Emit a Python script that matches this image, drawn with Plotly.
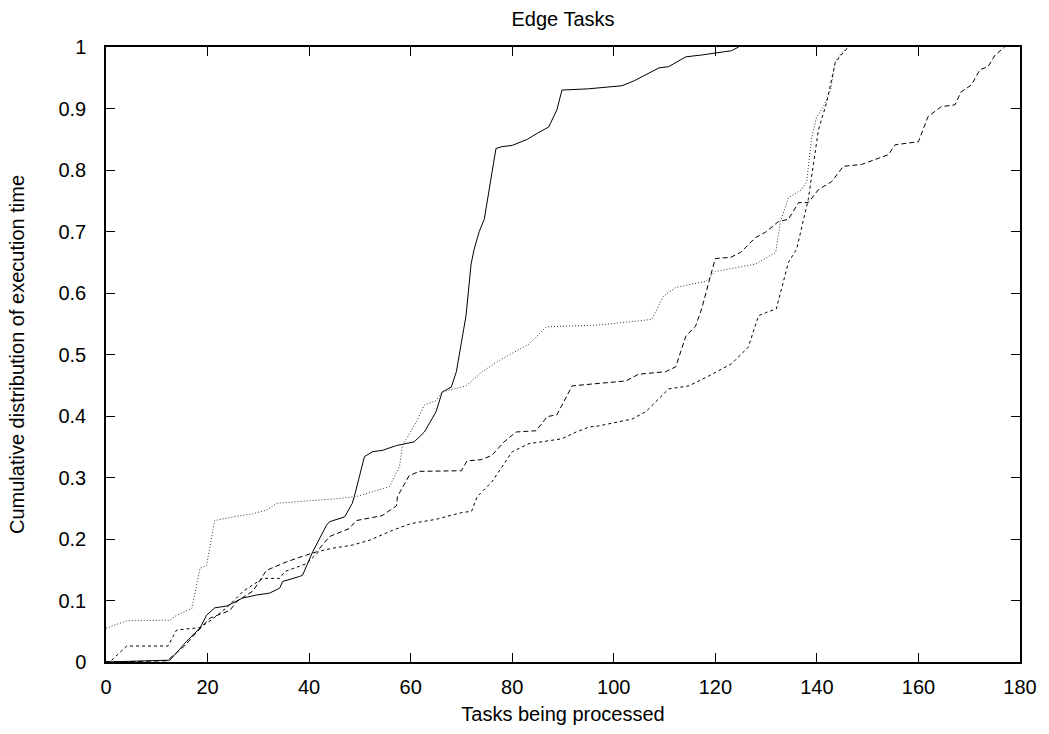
import plotly.graph_objects as go

# Series 1: solid
solid_x = [0, 5, 10, 12.6, 15.9, 18.5, 19.8, 21.4, 23.8, 26.9, 29.7, 32.2, 34.2, 34.8, 38.1, 38.7, 40.7, 43.4, 44, 47, 48.5, 48.9, 50.9, 52.5, 54.4, 57.2, 60.7, 62.7, 65, 66.2, 68, 69, 70, 70.9, 71.9, 72.5, 73.5, 74.5, 76.8, 78, 80, 83, 85, 87.2, 88.8, 89.8, 95, 101.6, 104, 106.3, 108.9, 110.8, 114.2, 117.3, 120, 123.2, 124.6]
solid_y = [0, 0.001, 0.002, 0.003, 0.034, 0.055, 0.076, 0.088, 0.091, 0.104, 0.109, 0.112, 0.120, 0.131, 0.139, 0.141, 0.179, 0.222, 0.228, 0.236, 0.258, 0.269, 0.334, 0.342, 0.344, 0.352, 0.358, 0.374, 0.407, 0.439, 0.447, 0.472, 0.520, 0.563, 0.647, 0.671, 0.70, 0.72, 0.835, 0.838, 0.84, 0.85, 0.86, 0.870, 0.898, 0.930, 0.932, 0.937, 0.945, 0.955, 0.966, 0.968, 0.984, 0.987, 0.99, 0.994, 1.0]

# Series 2: long dash
ldash_x = [0, 5, 12, 15.3, 17.5, 20.4, 24.4, 25.7, 27.7, 28.9, 31.6, 35.6, 39.5, 41.5, 44, 47.9, 49.3, 54.4, 57.2, 57.4, 59.7, 61.7, 70, 71.1, 73.9, 76, 78.4, 80.8, 84.7, 86.9, 88.8, 90.2, 91.8, 95.7, 102.4, 104.9, 110.2, 112.2, 114.2, 116.1, 117.3, 118.7, 120, 123, 125, 127.9, 129.9, 132.4, 134.4, 136.4, 138.3, 140.3, 142.9, 145.2, 148.8, 154.1, 155.4, 160, 161.9, 164.5, 167.2, 168.4, 170.4, 172.1, 173.7, 175.1, 177]
ldash_y = [0, 0.001, 0.002, 0.025, 0.045, 0.071, 0.084, 0.098, 0.109, 0.115, 0.149, 0.163, 0.174, 0.179, 0.204, 0.217, 0.230, 0.238, 0.254, 0.269, 0.303, 0.310, 0.311, 0.327, 0.329, 0.336, 0.358, 0.374, 0.376, 0.399, 0.402, 0.423, 0.449, 0.452, 0.457, 0.468, 0.472, 0.48, 0.53, 0.546, 0.574, 0.617, 0.656, 0.658, 0.666, 0.690, 0.699, 0.716, 0.72, 0.747, 0.747, 0.768, 0.781, 0.806, 0.809, 0.825, 0.841, 0.846, 0.887, 0.903, 0.906, 0.927, 0.938, 0.963, 0.968, 0.987, 1.0]

# Series 3: short dash
sdash_x = [0, 1, 4.1, 12.2, 13.9, 18.5, 21, 24, 27, 30.9, 34.2, 35.2, 39.5, 42, 44.6, 48.5, 51.9, 56.4, 60, 65, 70, 72, 73.1, 76, 80, 83.3, 89.8, 92.6, 95.1, 97.1, 103.6, 106.3, 110.8, 114.8, 118.7, 123.2, 126.5, 128.5, 129.9, 132, 134.4, 136, 138.3, 140.3, 141.9, 142.9, 143.6, 144.8, 146.2]
sdash_y = [0, 0.002, 0.026, 0.026, 0.052, 0.056, 0.07, 0.09, 0.115, 0.136, 0.136, 0.147, 0.16, 0.18, 0.185, 0.19, 0.198, 0.214, 0.225, 0.232, 0.243, 0.245, 0.269, 0.293, 0.342, 0.355, 0.363, 0.374, 0.382, 0.384, 0.395, 0.407, 0.444, 0.449, 0.465, 0.485, 0.512, 0.563, 0.568, 0.574, 0.65, 0.671, 0.752, 0.865, 0.909, 0.946, 0.974, 0.987, 1.0]

# Series 4: dotted
dot_x = [0, 4.1, 12.6, 13.9, 16.9, 18.5, 19.8, 21.4, 25, 28.9, 31.6, 33.6, 46, 49.3, 55.8, 57.8, 58.4, 61.1, 62.7, 65, 66.2, 70.9, 74.1, 77.4, 83.3, 86.7, 97.1, 107.5, 109.8, 112.2, 118.1, 120, 127.9, 131.9, 132.8, 134.4, 137, 138, 138.9, 139.9, 141.3, 142.7, 143.6, 144.8, 146.2]
dot_y = [0.055, 0.067, 0.068, 0.076, 0.087, 0.152, 0.157, 0.230, 0.236, 0.241, 0.247, 0.258, 0.266, 0.269, 0.285, 0.318, 0.352, 0.39, 0.418, 0.425, 0.439, 0.449, 0.472, 0.490, 0.517, 0.545, 0.548, 0.557, 0.595, 0.609, 0.619, 0.635, 0.647, 0.666, 0.716, 0.755, 0.768, 0.781, 0.849, 0.885, 0.903, 0.930, 0.976, 0.990, 1.0]

x_ticks = [0, 20, 40, 60, 80, 100, 120, 140, 160, 180]
y_ticks = [0, 0.1, 0.2, 0.3, 0.4, 0.5, 0.6, 0.7, 0.8, 0.9, 1]
y_labels = ["0", "0.1", "0.2", "0.3", "0.4", "0.5", "0.6", "0.7", "0.8", "0.9", "1"]

FONT = "Liberation Sans, Arial, sans-serif"
FS = 20

fig = go.Figure()
fig.add_trace(go.Scatter(x=solid_x, y=solid_y, mode="lines",
                         line=dict(color="black", width=1)))
fig.add_trace(go.Scatter(x=ldash_x, y=ldash_y, mode="lines",
                         line=dict(color="black", width=1, dash="5px,3px")))
fig.add_trace(go.Scatter(x=sdash_x, y=sdash_y, mode="lines",
                         line=dict(color="black", width=1, dash="3px,3px")))
fig.add_trace(go.Scatter(x=dot_x, y=dot_y, mode="lines",
                         line=dict(color="#333333", width=1, dash="1px,2px")))

fig.update_layout(
    width=1049, height=734,
    margin=dict(l=106, r=27, t=47, b=70),
    paper_bgcolor="white", plot_bgcolor="white",
    showlegend=False,
    font=dict(family=FONT, size=FS, color="black"),
    title=dict(text="Edge Tasks", x=0.5, xref="paper", y=1 - 19 / 734,
               yref="container", yanchor="middle", xanchor="center",
               font=dict(family=FONT, size=FS, color="black")),
    xaxis=dict(range=[0, 180], tickvals=x_ticks, ticks="inside", ticklen=9,
               tickwidth=1, tickcolor="black", showline=True, linecolor="black",
               linewidth=1.5, mirror="ticks", showgrid=False, zeroline=False,
               ticklabelstandoff=6,
               title=dict(text="Tasks being processed", standoff=10,
                          font=dict(size=FS)),
               tickfont=dict(size=FS)),
    yaxis=dict(range=[0, 1], tickvals=y_ticks, ticktext=y_labels, ticks="inside",
               ticklen=9, tickwidth=1, tickcolor="black", showline=True,
               linecolor="black", linewidth=1.5, mirror="ticks", showgrid=False,
               zeroline=False, ticklabelstandoff=14,
               title=dict(text="Cumulative distribution of execution time", standoff=28,
                          font=dict(size=FS)),
               tickfont=dict(size=FS)),
)

fig.write_html("out.html")
